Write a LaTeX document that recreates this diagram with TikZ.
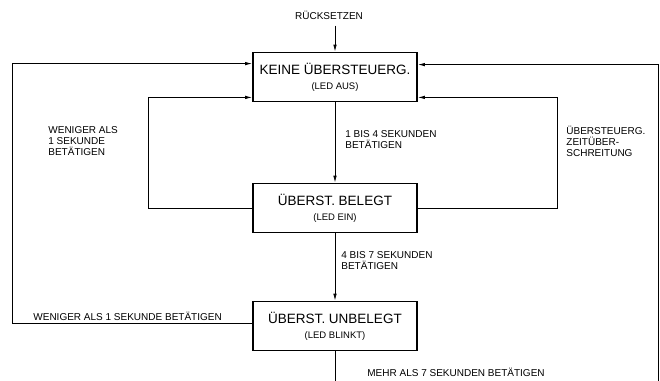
\documentclass[tikz,border=0pt]{standalone}
\usepackage{fontspec}
\setmainfont{Liberation Sans}
\usepackage{tikz}
\usetikzlibrary{arrows,arrows.meta,positioning,calc}

\tikzset{
zustand/.style={draw, line width=1.8pt, minimum width=164pt, minimum height=49pt, align=center, inner sep=0pt},
hinweis/.style={font=\fontsize{10}{11}\selectfont, align=left, inner sep=0pt},
}

\begin{document}
\begin{tikzpicture}[x=1pt,y=-1pt,>={Latex[length=7pt,width=3.5pt]},line width=0.8pt]

\useasboundingbox (0,0) rectangle (660,380);

\node[hinweis] (reset) at (329,15) {RÜCKSETZEN};

\node[zustand] (keine) at (335,77) {{\fontsize{13.5}{15}\selectfont KEINE ÜBERSTEUERG.}\\[3pt]{\fontsize{9.5}{11}\selectfont (LED AUS)}};

\node[zustand] (belegt) at (335,208) {{\fontsize{13.5}{15}\selectfont ÜBERST. BELEGT}\\[3pt]{\fontsize{9.5}{11}\selectfont (LED EIN)}};

\node[zustand] (unbelegt) at (335,326) {{\fontsize{13.5}{15}\selectfont ÜBERST. UNBELEGT}\\[3pt]{\fontsize{9.5}{11}\selectfont (LED BLINKT)}};

\coordinate (unten) at (335,385);
\coordinate (rechts) at (658,385);

% Hauptpfad
\draw[->] ([yshift=-6pt]reset.south -| keine.north) -- (keine.north);

\draw[->] (keine.south) -- (belegt.north);

\draw[->] (belegt.south) -- (unbelegt.north);

\draw (unbelegt.south) -- (unten);

% Rueckfuehrungen
\draw[->] (belegt.west) -- ++(-104,0) |- ([yshift=5pt]keine.south west);

\draw[->] (belegt.east) -- ++(139,0) |- ([yshift=5pt]keine.south east);

\draw[->] ([yshift=3pt]unbelegt.west) -- ++(-240,0) |- ([yshift=-12pt]keine.north west);

\draw[->] (rechts) |- ([yshift=-13pt]keine.north east);

% Beschriftungen
\node[hinweis, anchor=north west] (t14) at (345,130) {1 BIS 4 SEKUNDEN\\BETÄTIGEN};

\node[hinweis, anchor=north west] (t47) at (341,251) {4 BIS 7 SEKUNDEN\\BETÄTIGEN};

\node[hinweis, anchor=north west] (wenig) at (48,126) {WENIGER ALS\\1 SEKUNDE\\BETÄTIGEN};

\node[hinweis, anchor=north west] (zeit) at (566,126) {ÜBERSTEUERG.\\ZEITÜBER-\\SCHREITUNG};

\node[hinweis, anchor=base west] (wenig2) at (33,320) {WENIGER ALS 1 SEKUNDE BETÄTIGEN};

\node[hinweis, anchor=base west] (mehr) at (367,376) {MEHR ALS 7 SEKUNDEN BETÄTIGEN};

\end{tikzpicture}
\end{document}
